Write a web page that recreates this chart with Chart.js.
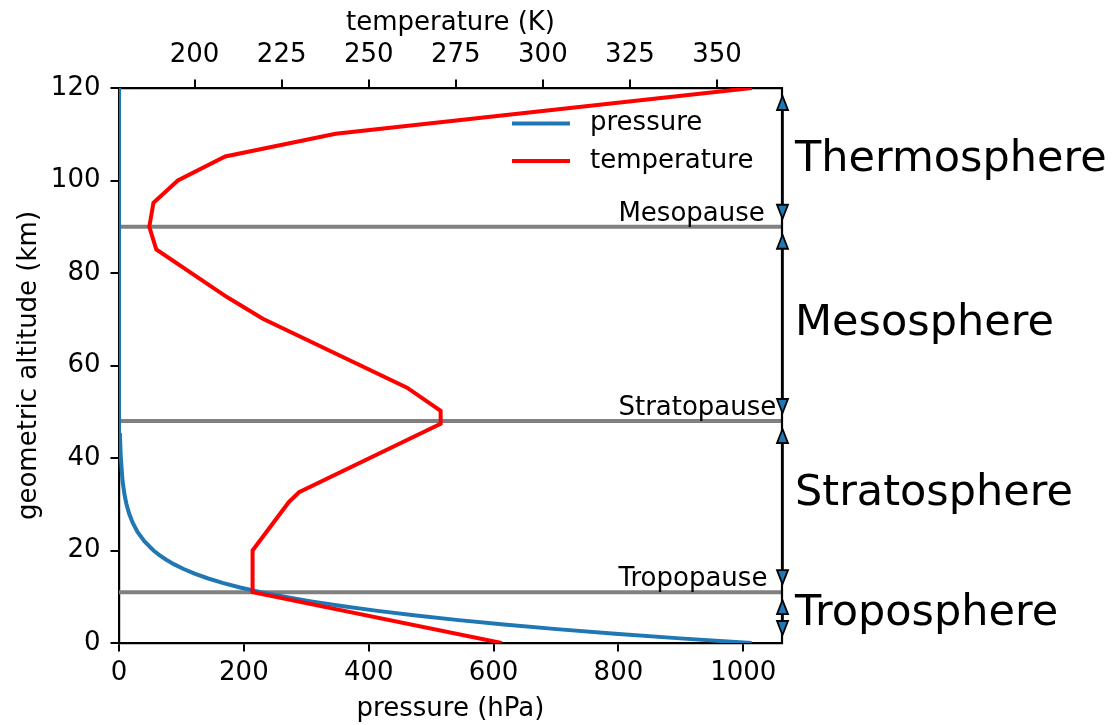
<!DOCTYPE html>
<html>
<head>
<meta charset="utf-8">
<script src="https://cdn.jsdelivr.net/npm/chart.js@4"></script>
<style>
html,body{margin:0;padding:0;background:#fff;}
#wrap{width:1116px;height:725px;}
</style>
</head>
<body>
<div id="wrap"><canvas id="c" width="1116" height="725"></canvas></div>
<script>
// ---------- data ----------
const pressureAltKm = [0,1,2,3,4,5,6,7,8,9,10,11,12,13,14,15,16,17,18,19,20,22,24,26,28,30,32,35,40,45,50,60,70,80,90,100,110,120];
const pressureHPa   = [1013.25,898.8,795.0,701.2,616.6,540.5,472.2,411.1,356.5,308.0,265.0,227.0,194.0,165.8,141.7,121.1,103.5,88.5,75.7,64.7,55.3,40.5,29.7,21.9,16.2,12.0,8.9,5.7,2.9,1.5,0.8,0.22,0.052,0.011,0.0018,0.0003,0.0001,0.00003];

const temperatureAltKm = [0,11,20,30.5,32.6,47.4,50.2,55.2,70.1,74.8,85.1,90,95.2,100,105.2,110.1,120];
const temperatureK     = [288.15,216.65,216.65,227.1,230.0,270.65,270.65,261.0,219.6,209.3,189.0,187.0,188.2,195.2,208.8,240.5,360.0];

const pauseNames  = ['Tropopause','Stratopause','Mesopause'];
const pauseAltKm  = [11,48,90];
const layerNames  = ['Troposphere','Stratosphere','Mesosphere','Thermosphere'];
const layerBoundsKm = [0,11,48,90,120];

const pressureTicks    = [0,200,400,600,800,1000];
const temperatureTicks = [200,225,250,275,300,325,350];
const altitudeTicks    = [0,20,40,60,80,100,120];

const seriesNames = ['pressure','temperature'];

// label anchors (baseline altitude, km) for the layer names
const layerLabelKm = [3.8,29.8,66.7,102.0];

// ---------- chart ----------
const FONT = '"DejaVu Sans", "Liberation Sans", sans-serif';
Chart.defaults.font.family = FONT;
Chart.defaults.font.size = 26;
Chart.defaults.color = '#000';

const P_MAX = 1062, T_MIN = 178.3, T_MAX = 368.66;
const BLUE = '#1f77b4', RED = '#ff0000', GRAY = '#808080';

const pressureData = pressureAltKm.map((a,i)=>({x:pressureHPa[i], y:a}));
const temperatureData = temperatureAltKm.map((a,i)=>({x:temperatureK[i], y:a}));
const pauseSets = pauseAltKm.map(a=>({
  label:'_pause', data:[{x:0,y:a},{x:P_MAX,y:a}], xAxisID:'x', yAxisID:'y',
  showLine:true, pointRadius:0, borderColor:GRAY, borderWidth:4, order:5
}));

const tickGrid = {display:true, drawOnChartArea:false, drawTicks:true, tickLength:8.5, color:'#000', lineWidth:2};
const border = {display:true, color:'#000', width:2.2};
const fmt = v => String(v);

const overlay = {
  id:'overlay',
  afterDraw(chart){
    const {ctx, chartArea:a, scales} = chart;
    const xs = scales.x, ys = scales.y;
    ctx.save();
    // right spine
    ctx.strokeStyle = '#000'; ctx.lineWidth = 2.2;
    ctx.beginPath(); ctx.moveTo(a.right, a.top - 1.1); ctx.lineTo(a.right, a.bottom + 1.1); ctx.stroke();

    // pause labels
    ctx.fillStyle = '#000';
    ctx.font = '26px ' + FONT;
    ctx.textAlign = 'left'; ctx.textBaseline = 'alphabetic';
    pauseNames.forEach((n,i)=>{
      ctx.fillText(n, xs.getPixelForValue(800), ys.getPixelForValue(pauseAltKm[i]) - 6);
    });

    // arrows
    const ax = a.right + 0.5;
    const head = (tipY, dir) => { // dir = -1 up, +1 down
      ctx.beginPath();
      ctx.moveTo(ax, tipY);
      ctx.lineTo(ax - 5.5, tipY - dir*14);
      ctx.lineTo(ax + 5.5, tipY - dir*14);
      ctx.closePath();
      ctx.fillStyle = BLUE; ctx.fill();
      ctx.strokeStyle = '#000'; ctx.lineWidth = 1.8; ctx.lineJoin = 'miter'; ctx.stroke();
    };
    for (let i=0;i<layerNames.length;i++){
      const yLow = ys.getPixelForValue(layerBoundsKm[i]) - 8;
      const yHigh = ys.getPixelForValue(layerBoundsKm[i+1]) + 8;
      ctx.strokeStyle = '#000'; ctx.lineWidth = 2.6;
      ctx.beginPath(); ctx.moveTo(ax, yLow - 4); ctx.lineTo(ax, yHigh + 4); ctx.stroke();
      head(yHigh, -1);
      head(yLow, 1);
    }

    // layer labels
    ctx.fillStyle = '#000';
    ctx.font = '43px ' + FONT;
    ctx.textAlign = 'left'; ctx.textBaseline = 'alphabetic';
    layerNames.forEach((n,i)=>{
      ctx.fillText(n, 795, ys.getPixelForValue(layerLabelKm[i]));
    });

    // legend (inside, upper right, no frame)
    const legendColors = [BLUE, RED];
    ctx.font = '26px ' + FONT;
    ctx.textBaseline = 'middle';
    seriesNames.forEach((n,i)=>{
      const yy = 123.5 + i*37.5;
      ctx.strokeStyle = legendColors[i]; ctx.lineWidth = 4; ctx.lineCap = 'butt';
      ctx.beginPath(); ctx.moveTo(512, yy); ctx.lineTo(570, yy); ctx.stroke();
      ctx.fillStyle = '#000';
      ctx.fillText(n, 590, yy);
    });
    ctx.restore();
  }
};

new Chart(document.getElementById('c'), {
  type:'scatter',
  data:{
    datasets:[
      ...pauseSets,
      {label:seriesNames[0], data:pressureData, xAxisID:'x', yAxisID:'y', showLine:true, pointRadius:0,
       borderColor:BLUE, borderWidth:4, order:2},
      {label:seriesNames[1], data:temperatureData, xAxisID:'x2', yAxisID:'y', showLine:true, pointRadius:0,
       borderColor:RED, borderWidth:4, order:1, borderJoinStyle:'miter'}
    ]
  },
  options:{
    responsive:false, animation:false, devicePixelRatio:1,
    layout:{padding:{left:0, right:334, top:0, bottom:0}},
    plugins:{legend:{display:false}, tooltip:{enabled:false}},
    scales:{
      x:{type:'linear', position:'bottom', min:0, max:P_MAX,
         title:{display:true, text:'pressure (hPa)', color:'#000', padding:{top:0,bottom:0}},
         ticks:{color:'#000', padding:6, maxRotation:0, autoSkip:false, callback:fmt},
         grid:tickGrid, border:border,
         afterBuildTicks:s=>{s.ticks = pressureTicks.map(v=>({value:v}));},
         afterFit:s=>{s.height = 82;}},
      x2:{type:'linear', position:'top', min:T_MIN, max:T_MAX,
         title:{display:true, text:'temperature (K)', color:'#000', padding:{top:8,bottom:0}},
         ticks:{color:'#000', padding:9, maxRotation:0, autoSkip:false, callback:fmt},
         grid:tickGrid, border:border,
         afterBuildTicks:s=>{s.ticks = temperatureTicks.map(v=>({value:v}));},
         afterFit:s=>{s.height = 88;}},
      y:{type:'linear', position:'left', min:0, max:120,
         title:{display:true, text:'geometric altitude (km)', color:'#000', padding:{top:14,bottom:0}},
         ticks:{color:'#000', padding:10, autoSkip:false, callback:fmt},
         grid:tickGrid, border:border,
         afterBuildTicks:s=>{s.ticks = altitudeTicks.map(v=>({value:v}));},
         afterFit:s=>{s.width = 119;}}
    }
  },
  plugins:[overlay]
});
</script>
</body>
</html>
